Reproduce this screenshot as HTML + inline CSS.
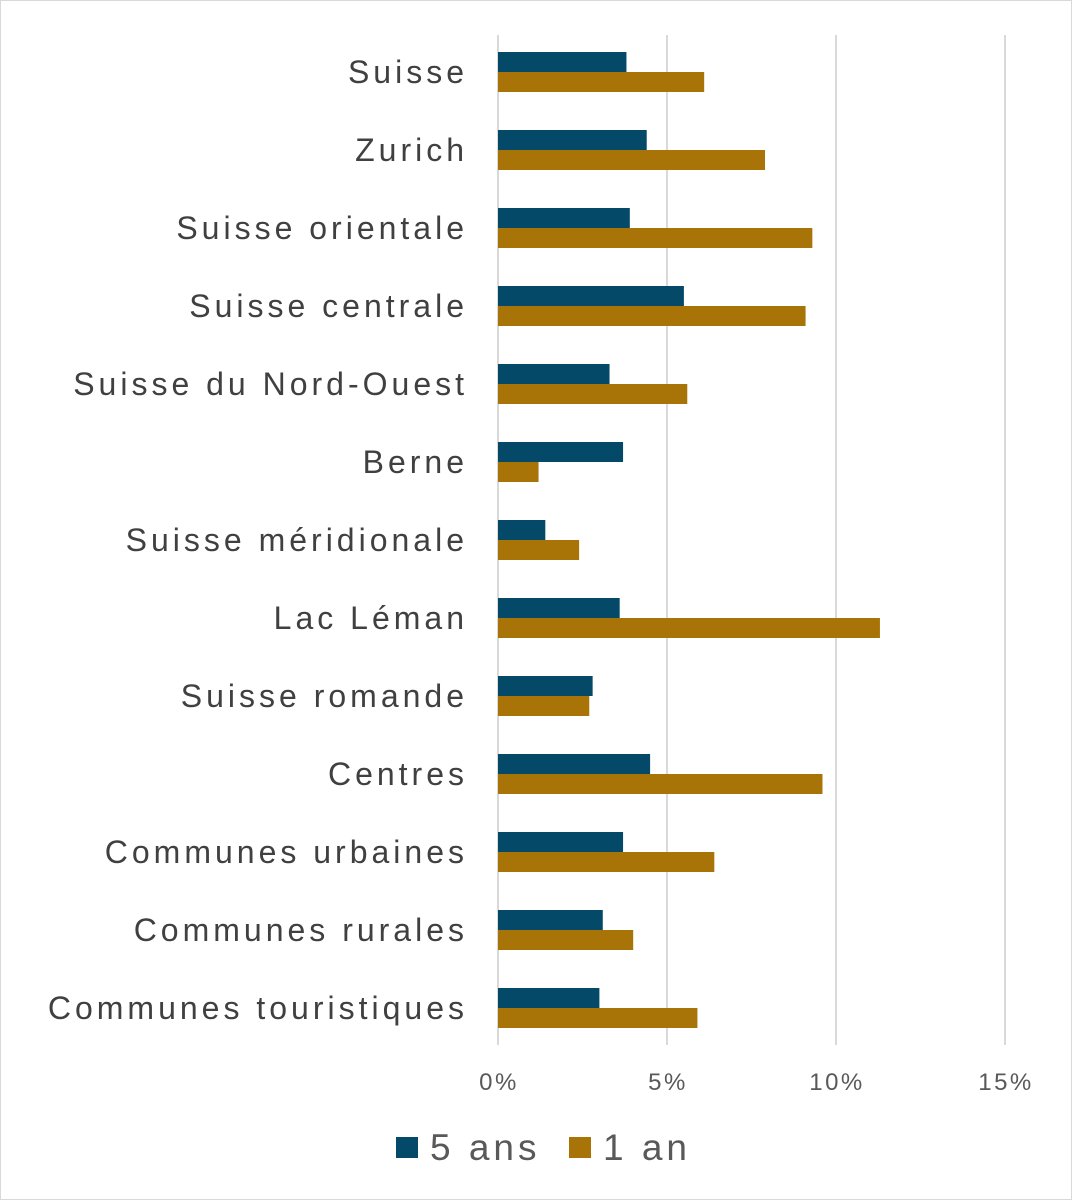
<!DOCTYPE html>
<html><head><meta charset="utf-8"><style>
body{margin:0;background:#fff}
svg{display:block;font-family:"Liberation Sans",sans-serif}
</style></head><body>
<svg id="c" width="1072" height="1200">
<rect x="0.5" y="0.5" width="1071" height="1199" fill="#fff" stroke="#d9d9d9"/>
<g id="grid"></g><g id="bars"></g><g id="labels"></g><g id="ticks"></g>
<g>
<rect x="396" y="1137" width="22" height="21" fill="#044a68"/>
<text x="430" y="1160" font-size="37" fill="#595959" letter-spacing="4">5 ans</text>
<rect x="569" y="1137" width="22" height="21" fill="#a87408"/>
<text x="603" y="1160" font-size="37" fill="#595959" letter-spacing="4">1 an</text>
</g>
</svg>
<script>
const categories=["Suisse","Zurich","Suisse orientale","Suisse centrale","Suisse du Nord-Ouest","Berne","Suisse méridionale","Lac Léman","Suisse romande","Centres","Communes urbaines","Communes rurales","Communes touristiques"];
const fiveYears=[3.8,4.4,3.9,5.5,3.3,3.7,1.4,3.6,2.8,4.5,3.7,3.1,3.0];
const oneYear=[6.1,7.9,9.3,9.1,5.6,1.2,2.4,11.3,2.7,9.6,6.4,4.0,5.9];
const ticks=[0,5,10,15];
const tickLabels=["0%","5%","10%","15%"];
const ns="http://www.w3.org/2000/svg";
const x=v=>498+v*33.8;
const y=i=>52+i*78;
function mk(t,a,p){const e=document.createElementNS(ns,t);for(const k in a)e.setAttribute(k,a[k]);p.appendChild(e);return e;}
const g=document.getElementById('grid'),b=document.getElementById('bars'),l=document.getElementById('labels'),tk=document.getElementById('ticks');
ticks.forEach((t,i)=>{
 const ln=mk('line',{x1:x(t),x2:x(t),y1:35,y2:1045,stroke:'#d9d9d9','stroke-width':2},g);
 
 
 const tx=mk('text',{x:x(t)+1,y:1090,'font-size':24,fill:'#595959','text-anchor':'middle','letter-spacing':2.5},tk);
 tx.textContent=tickLabels[i];
 
 
});
categories.forEach((c,i)=>{
 const r1=mk('rect',{x:x(0),y:y(i),width:x(fiveYears[i])-x(0),height:20,fill:'#044a68'},b);
 
 
 const r2=mk('rect',{x:x(0),y:y(i)+20,width:x(oneYear[i])-x(0),height:20,fill:'#a87408'},b);
 
 
 const t=mk('text',{x:468,y:y(i)+31,'font-size':32,fill:'#404040','text-anchor':'end','letter-spacing':4},l);
 t.textContent=c;
 
 
});
</script>
</body></html>
